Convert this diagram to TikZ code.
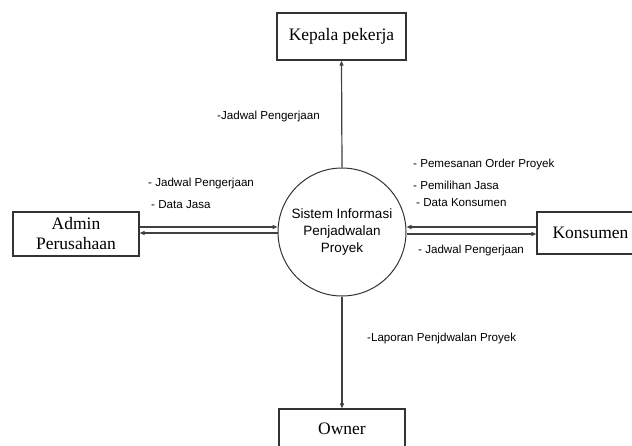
\documentclass[tikz,border=0pt]{standalone}
\usepackage{fontspec}
\setmainfont{Liberation Serif}
\newfontfamily\arialfont{Liberation Sans}
\usetikzlibrary{arrows.meta,calc}
\begin{document}
\begin{tikzpicture}[x=1pt,y=-1pt,
  entity/.style={draw=black!80, line width=1.3pt, fill=white, inner sep=0pt, font=\fontsize{17.5}{20}\selectfont, align=center},
  proc/.style={circle, draw=black!80, line width=1pt, minimum size=128pt, inner sep=0pt, font=\arialfont\fontsize{13.5}{17}\selectfont, align=center},
  flow/.style={draw=black!75, line width=1.2pt, -{Triangle[length=5pt,width=4pt]}},
  lbl/.style={anchor=west, inner sep=0pt, font=\arialfont\fontsize{11.6}{13}\selectfont}]
\clip (0,0) rectangle (632,445);
\fill[white] (0,0) rectangle (632,445);

\node[proc] (sys) at (342,232) {Sistem Informasi\\Penjadwalan\\Proyek};
\node[entity, minimum width=129pt, minimum height=47pt] (kepala) at (341.5,36.5) {Kepala pekerja};
\node[entity, minimum width=126pt, minimum height=44pt] (admin) at (76,234) {Admin\\Perusahaan};
\node[entity, minimum width=107pt, minimum height=42pt] (kons) at (590.5,233) {Konsumen};
\node[entity, minimum width=126pt, minimum height=40pt] (owner) at (342,429) {Owner};

\draw[flow] (sys.north) -- (kepala.south);
\draw[flow] (sys.south) -- (owner.north);
\draw[flow] ([yshift=7pt]admin.east) -- ([yshift=7pt]admin.east -| sys.west);
\draw[flow] ([yshift=1pt]admin.east -| sys.west) -- ([yshift=1pt]admin.east);
\draw[flow] ([yshift=6pt]kons.west) -- ([yshift=6pt]kons.west -| sys.east);
\draw[flow] ([yshift=-1pt]kons.west -| sys.east) -- ([yshift=-1pt]kons.west);

\node[lbl] (l1) at (217,116) {-Jadwal Pengerjaan};
\node[lbl] (l2) at (148,183) {- Jadwal Pengerjaan};
\node[lbl] (l3) at (151,205) {- Data Jasa};
\node[lbl] (l4) at (413,164) {- Pemesanan Order Proyek};
\node[lbl] (l5) at (413,185) {- Pemilihan Jasa};
\node[lbl] (l6) at (416,203) {- Data Konsumen};
\node[lbl] (l7) at (418,250) {- Jadwal Pengerjaan};
\node[lbl] (l8) at (367,338) {-Laporan Penjdwalan Proyek};
\end{tikzpicture}
\end{document}
